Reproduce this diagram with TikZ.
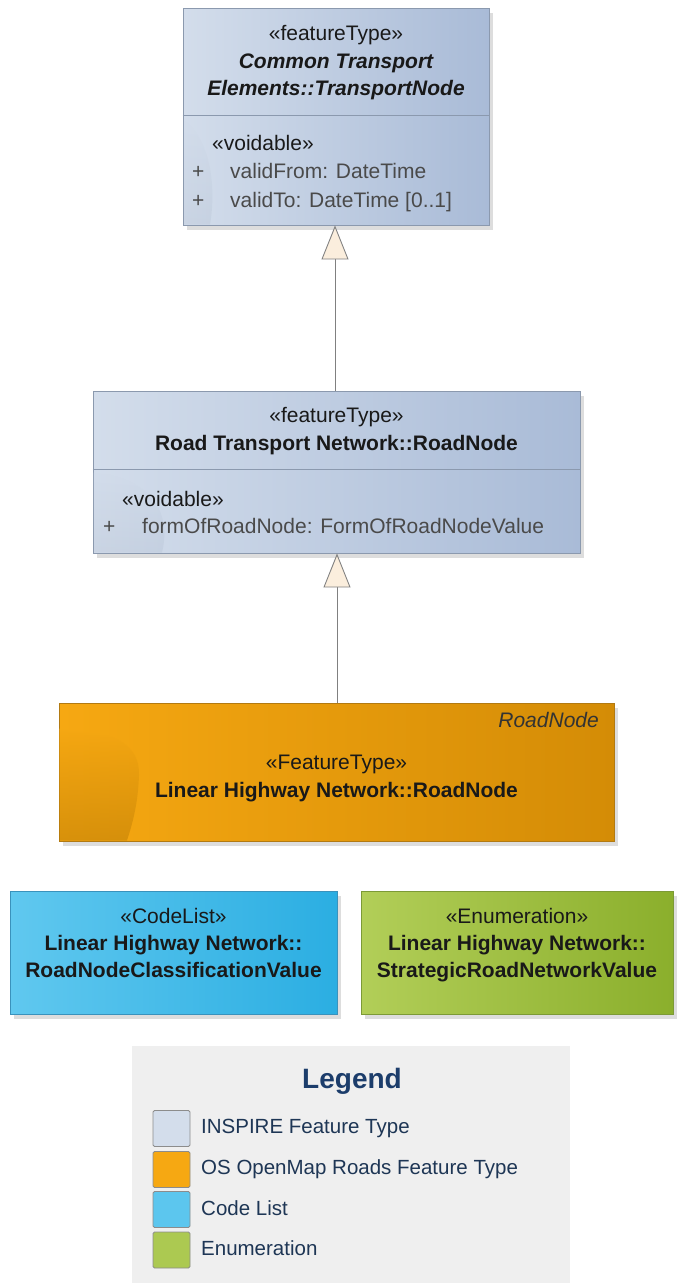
\documentclass[tikz,border=0pt]{standalone}
\usepackage{fontspec}
\setmainfont{Liberation Sans}
\usetikzlibrary{arrows.meta,shadows}
\definecolor{inspL}{HTML}{D3DDEB}
\definecolor{inspR}{HTML}{A9BBD7}
\definecolor{inspB}{HTML}{8B99AE}
\definecolor{orL}{HTML}{F6A812}
\definecolor{orR}{HTML}{D48C06}
\definecolor{orB}{HTML}{B27A12}
\definecolor{blL}{HTML}{60C8EF}
\definecolor{blR}{HTML}{2BAEE2}
\definecolor{blB}{HTML}{3A92BC}
\definecolor{grL}{HTML}{B2CE58}
\definecolor{grR}{HTML}{8BAF2C}
\definecolor{grB}{HTML}{7C9A36}
\definecolor{cream}{HTML}{FBEEDD}
\definecolor{legbg}{HTML}{EFEFEF}
\definecolor{legtxt}{HTML}{1E3655}
\definecolor{legttl}{HTML}{1C3D6B}
\definecolor{attr}{HTML}{4A4A4A}
\tikzset{
  every node/.style={font=\fontsize{21}{25}\selectfont, inner sep=0pt},
  umlbox/.style={rectangle, line width=0.9pt, drop shadow={shadow xshift=4pt, shadow yshift=-5pt, fill=black!22, opacity=0.6}},
  inspire/.style={umlbox, draw=inspB, left color=inspL, right color=inspR},
  osbox/.style={umlbox, draw=orB, left color=orL, right color=orR},
  codebox/.style={umlbox, draw=blB, left color=blL, right color=blR},
  enumbox/.style={umlbox, draw=grB, left color=grL, right color=grR},
  gen/.style={draw=black!50, line width=0.9pt, -{Triangle[width=27pt,length=34pt,fill=cream,line width=0.9pt]}},
  sep/.style={draw=inspB, line width=0.9pt},
  ctext/.style={anchor=base, text=black!90},
  btext/.style={anchor=base, text=black!90, font=\fontsize{21}{25}\selectfont\bfseries},
  bitext/.style={anchor=base, text=black!90, font=\fontsize{21}{25}\selectfont\bfseries\itshape},
  atext/.style={anchor=base west, text=attr},
  swatch/.style={rectangle, draw=black!45, line width=0.8pt, minimum width=37pt, minimum height=36pt, rounded corners=1.5pt},
  legtext/.style={anchor=base west, text=legtxt, font=\fontsize{20.5}{25}\selectfont}
}
\begin{document}
\begin{tikzpicture}[x=1pt,y=-1pt]
\useasboundingbox (0,0) rectangle (679,1283);

% ---- Box 1: Common Transport Elements::TransportNode
\node[inspire, minimum width=306pt, minimum height=217pt] (tn) at (336,116.5) {};
\shade[top color=inspL, bottom color=inspR!80!black, opacity=0.12] (183.5,120) .. controls (212,140) and (216,190) .. (210,224.5) -- (183.5,224.5) -- cycle;
\draw[sep] (tn.west |- 0,115) -- (tn.east |- 0,115);
\node[ctext] (tn1) at (336,40) {«featureType»};
\node[bitext] (tn2) at (336,68) {Common Transport};
\node[bitext] (tn3) at (336,95) {Elements::TransportNode};
\node[atext, text=black!90] (tn4) at (212,150) {«voidable»};
\node[atext] (tn5p) at (192,178) {+};
\node[atext] (tn5) at (230,178) {validFrom: DateTime};
\node[atext] (tn6p) at (192,207) {+};
\node[atext] (tn6) at (230,207) {validTo: DateTime [0..1]};

% ---- Box 2: Road Transport Network::RoadNode
\node[inspire, minimum width=487pt, minimum height=162pt] (rn) at (336.5,472) {};
\shade[top color=inspL, bottom color=inspR!80!black, opacity=0.12] (93.5,472) .. controls (160,480) and (170,520) .. (162,552.5) -- (93.5,552.5) -- cycle;
\draw[sep] (rn.west |- 0,469) -- (rn.east |- 0,469);
\node[ctext] (rn1) at (336.5,422) {«featureType»};
\node[btext] (rn2) at (336.5,450) {Road Transport Network::RoadNode};
\node[atext, text=black!90] (rn3) at (122,506) {«voidable»};
\node[atext] (rn4p) at (103,533) {+};
\node[atext] (rn4) at (142,533) {formOfRoadNode: FormOfRoadNodeValue};

% ---- Box 3: Linear Highway Network::RoadNode
\node[osbox, minimum width=555pt, minimum height=138pt] (lh) at (336.5,772) {};
\shade[top color=orL, bottom color=orR!88!black, opacity=0.5] (59.5,728) .. controls (115,730) and (140,745) .. (139,775) .. controls (138,805) and (132,825) .. (127,840.5) -- (59.5,840.5) -- cycle;
\node[anchor=base east, text=black!80, font=\fontsize{21}{25}\selectfont\itshape] (lh0) at (599,727) {RoadNode};
\node[ctext] (lh1) at (336.5,769) {«FeatureType»};
\node[btext] (lh2) at (336.5,797) {Linear Highway Network::RoadNode};

% ---- Box 4: code list
\node[codebox, minimum width=327pt, minimum height=123pt] (cl) at (173.5,952.5) {};
\node[ctext] (cl1) at (173.5,923) {«CodeList»};
\node[btext] (cl2) at (173.5,950) {Linear Highway Network::};
\node[btext] (cl3) at (173.5,977) {RoadNodeClassificationValue};

% ---- Box 5: enumeration
\node[enumbox, minimum width=312pt, minimum height=123pt] (en) at (517,952.5) {};
\node[ctext] (en1) at (517,923) {«Enumeration»};
\node[btext] (en2) at (517,950) {Linear Highway Network::};
\node[btext] (en3) at (517,977) {StrategicRoadNetworkValue};

% ---- generalisations
\draw[gen] (rn.north -| 335,0) -- (tn.south -| 335,0);
\draw[gen] (lh.north -| 337,0) -- (rn.south -| 337,0);

% ---- Legend
\node[rectangle, fill=legbg, minimum width=438pt, minimum height=237pt] (leg) at (351,1164.5) {};
\node[anchor=base, text=legttl, font=\fontsize{28}{32}\selectfont\bfseries] (legt) at (352,1088) {Legend};
\node[swatch, fill=inspL] (s1) at (171.5,1128.5) {};
\node[swatch, fill=orL] (s2) at (171.5,1169.5) {};
\node[swatch, fill=blL!92!blR] (s3) at (171.5,1209.5) {};
\node[swatch, fill=grL!85!grR] (s4) at (171.5,1250) {};
\node[legtext] (l1) at (201,1133) {INSPIRE Feature Type};
\node[legtext] (l2) at (201,1174) {OS OpenMap Roads Feature Type};
\node[legtext] (l3) at (201,1215) {Code List};
\node[legtext] (l4) at (201,1255) {Enumeration};
\end{tikzpicture}
\end{document}
